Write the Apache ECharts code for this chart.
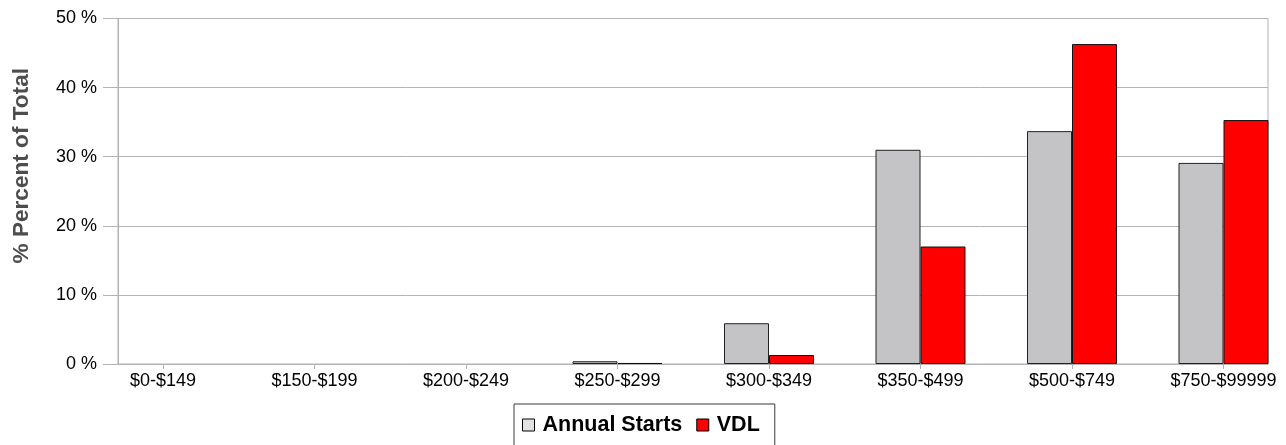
<!DOCTYPE html>
<html>
<head>
<meta charset="utf-8">
<script src="https://cdn.jsdelivr.net/npm/echarts@6/dist/echarts.min.js"></script>
<style>
html,body{margin:0;padding:0;background:#fff;}
#main{width:1286px;height:445px;}
</style>
</head>
<body>
<div id="main"></div>
<script>
const categories = ['$0-$149','$150-$199','$200-$249','$250-$299','$300-$349','$350-$499','$500-$749','$750-$99999'];
const annualStarts = [0, 0, 0, 0.4, 5.9, 31.0, 33.7, 29.1];
const vdl = [0, 0, 0, 0.15, 1.3, 17.0, 46.3, 35.3];
const yTicks = [0, 10, 20, 30, 40, 50];

// zero shares are not drawn as bars in the reference
const asBars = arr => arr.map(v => (v === 0 ? '-' : v));

const chart = echarts.init(document.getElementById('main'));
const gridTop = 18.5, gridBottom = 81;
const option = {
  animation: false,
  backgroundColor: '#ffffff',
  grid: [
    {left: 118, top: gridTop, width: 1150, bottom: gridBottom, show: true, borderColor: '#b3b3b3', borderWidth: 1,
     backgroundColor: 'transparent', outerBoundsMode: 'none'},
    {left: 87.25, top: gridTop, width: 1212, bottom: gridBottom, outerBoundsMode: 'none'}
  ],
  xAxis: [
    {gridIndex: 0, type: 'category', data: categories, axisLabel: {show: false}, axisTick: {show: false},
     axisLine: {show: true, lineStyle: {color: '#b3b3b3', width: 1}}},
    {gridIndex: 1, type: 'category', data: categories, axisLine: {show: false},
     axisTick: {show: true, alignWithLabel: true, length: 5, lineStyle: {color: '#b3b3b3', width: 1}},
     axisLabel: {color: '#000', fontFamily: 'Liberation Sans, Arial, sans-serif', fontSize: 18, margin: 8, interval: 0}}
  ],
  yAxis: [
    {gridIndex: 0, type: 'value', min: yTicks[0], max: yTicks[yTicks.length-1], interval: 10,
     axisLine: {show: true, lineStyle: {color: '#b3b3b3', width: 1}},
     axisTick: {show: true, length: 15, lineStyle: {color: '#b3b3b3', width: 1}},
     splitLine: {show: true, lineStyle: {color: '#b3b3b3', width: 1}},
     axisLabel: {formatter: '{value} %', color: '#000', fontFamily: 'Liberation Sans, Arial, sans-serif', fontSize: 18, margin: 21}},
    {gridIndex: 1, type: 'value', min: yTicks[0], max: yTicks[yTicks.length-1], interval: 10, show: false}
  ],
  legend: {
    left: 514, top: 404,
    itemWidth: 12, itemHeight: 12, itemGap: 14,
    borderColor: '#3a3a3a', borderWidth: 1,
    padding: [10, 15, 12, 8],
    textStyle: {fontFamily: 'Liberation Sans, Arial, sans-serif', fontWeight: 'bold', fontSize: 21.5, color: '#000', padding: [0,0,0,3]},
    data: [
      {name: 'Annual Starts', icon: 'rect', itemStyle: {color: '#e2e1e4', borderColor: '#000', borderWidth: 1}},
      {name: 'VDL', icon: 'rect', itemStyle: {color: '#ff0000', borderColor: '#000', borderWidth: 1}}
    ]
  },
  graphic: [
    {type: 'text', left: 10, top: 68, rotation: Math.PI/2,
     style: {text: '% Percent of Total', fill: '#4d4d4d', font: 'bold 22.6px "Liberation Sans", Arial, sans-serif'}}
  ],
  series: [
    {name: 'Annual Starts', type: 'bar', xAxisIndex: 1, yAxisIndex: 1, data: asBars(annualStarts),
     barWidth: 45, barGap: '0%',
     itemStyle: {color: '#c4c3c6', borderColor: '#222', borderWidth: 1}},
    {name: 'VDL', type: 'bar', xAxisIndex: 1, yAxisIndex: 1, data: asBars(vdl),
     barWidth: 45, barGap: '0%',
     itemStyle: {color: '#ff0000', borderColor: '#111', borderWidth: 1}}
  ]
};
chart.setOption(option);
</script>
</body>
</html>
